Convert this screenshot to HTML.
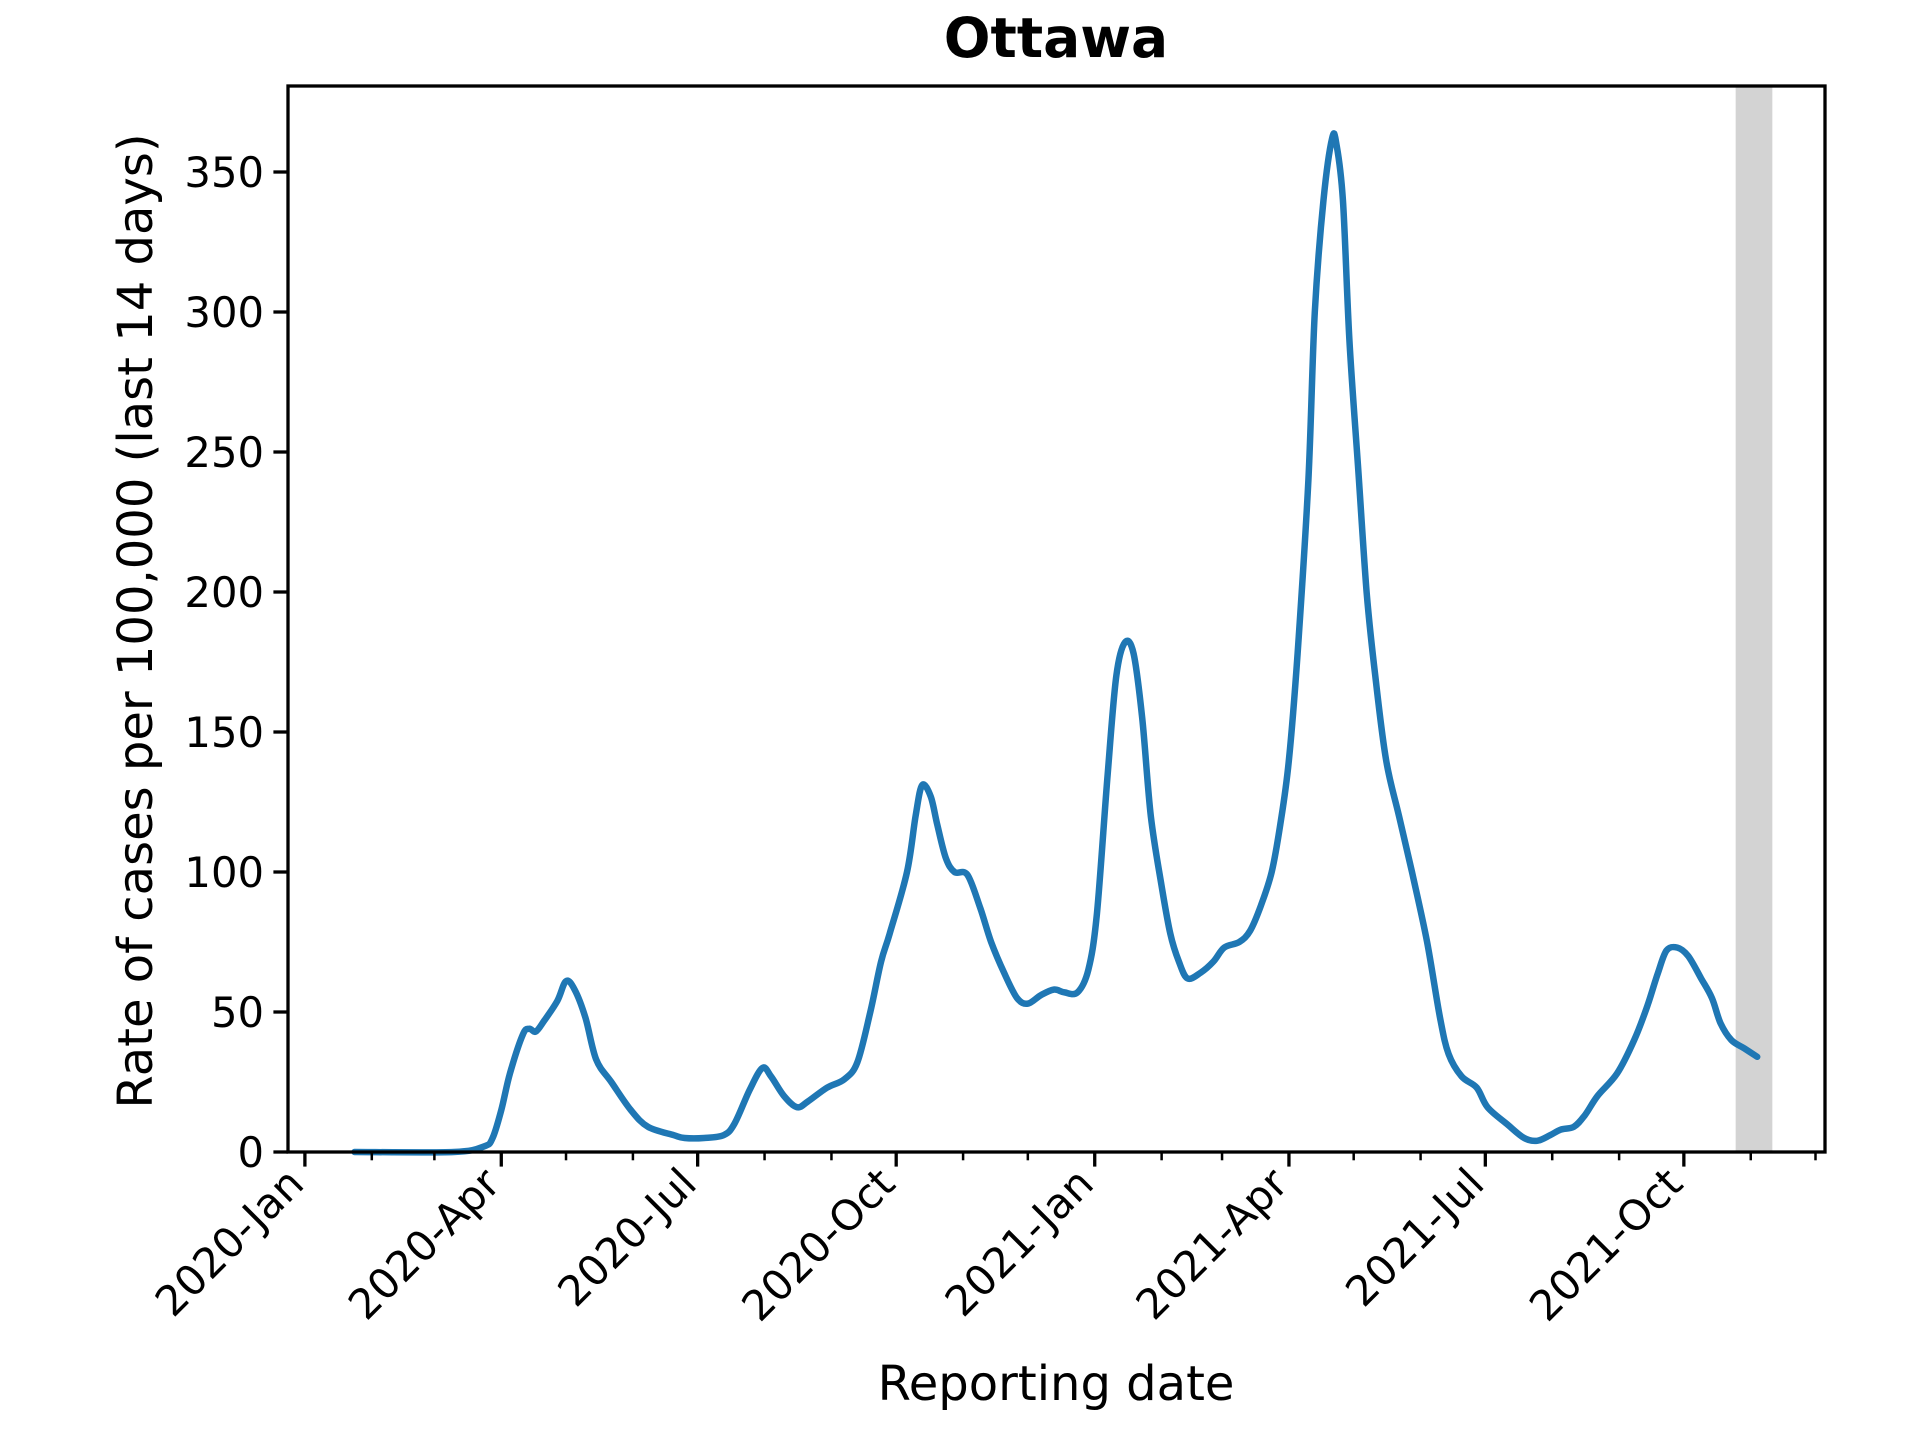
<!DOCTYPE html>
<html><head><meta charset="utf-8"><style>
html,body{margin:0;padding:0;background:#fff;}
svg text{font-family:"DejaVu Sans","Liberation Sans",sans-serif;fill:#000;}
</style></head><body>
<svg id="chart" width="1920" height="1440" viewBox="0 0 1920 1440" xmlns="http://www.w3.org/2000/svg">
<rect width="1920" height="1440" fill="#fff"/>
<g id="plot"></g>
<text x="1056" y="57" font-size="55" font-weight="bold" text-anchor="middle">Ottawa</text>
<text x="1056" y="1400" font-size="48" text-anchor="middle">Reporting date</text>
<text transform="translate(152,621) rotate(-90)" font-size="48" text-anchor="middle">Rate of cases per 100,000 (last 14 days)</text>
</svg>
<script>
// days since 2020-01-01
const days = [23,69,83,87,91,95,101,104,107,111,117,121,125,130,135,142,151,159,171,176,185,194,199,206,212,216,222,228,233,242,250,256,262,267,271,279,283,286,290,293,297,301,307,313,318,324,330,335,341,347,352,358,363,367,372,376,380,384,388,392,397,401,405,409,415,421,426,433,438,443,448,452,456,460,465,468,472,476,478,481,484,488,492,496,501,507,513,520,526,530,536,543,548,557,565,571,577,582,588,593,599,608,616,622,627,631,636,641,647,652,656,661,667,673];
const rates = [0,0,2,5,15,28,42,44,43,47,54,61,58,48,33,25,15,9,6,5,5,6,10,22,30,27,20,16,18,23,26,32,50,68,78,100,120,131,127,117,105,100,99,87,75,64,55,53,56,58,57,57,65,85,135,170,182,178,155,120,95,78,68,62,64,68,73,75,79,88,100,117,140,178,240,300,340,362,360,340,290,245,200,170,140,120,100,75,48,35,27,23,16,10,5,4,6,8,9,13,20,28,40,52,64,72,73,70,62,55,46,40,37,34];
const yTicks = [0,50,100,150,200,250,300,350];
const xTickLabels = ["2020-Jan","2020-Apr","2020-Jul","2020-Oct","2021-Jan","2021-Apr","2021-Jul","2021-Oct"];
const xTickDays = [0,91,182,274,366,456,547,639];
const minorDays = [31,60,121,152,213,244,305,335,397,425,486,517,578,609,670,700];
const shadeStart = 663, shadeEnd = 680;

const X0=288,X1=1825,Y0=1152,Y1=86;
const x = d => 304.9 + d*2.158;
const y = v => 1152 - v*2.8;
const NS="http://www.w3.org/2000/svg";
const g=document.getElementById('plot');
function mk(t,a){const e=document.createElementNS(NS,t);for(const k in a)e.setAttribute(k,a[k]);g.appendChild(e);return e;}

const sh=mk('rect',{x:x(shadeStart),y:Y1,width:x(shadeEnd)-x(shadeStart),height:Y0-Y1,fill:'#d3d3d3'});



const P=days.map((d,i)=>[x(d),y(rates[i])]);
let dstr='M'+P[0][0].toFixed(1)+','+P[0][1].toFixed(1);
for(let i=0;i<P.length-1;i++){
  const p0=P[Math.max(0,i-1)],p1=P[i],p2=P[i+1],p3=P[Math.min(P.length-1,i+2)];
  const c1=[p1[0]+(p2[0]-p0[0])/6,p1[1]+(p2[1]-p0[1])/6];
  const c2=[p2[0]-(p3[0]-p1[0])/6,p2[1]-(p3[1]-p1[1])/6];
  dstr+=` C${c1[0].toFixed(1)},${c1[1].toFixed(1)} ${c2[0].toFixed(1)},${c2[1].toFixed(1)} ${p2[0].toFixed(1)},${p2[1].toFixed(1)}`;
}
const line=mk('path',{d:dstr,fill:'none',stroke:'#1f77b4','stroke-width':6.5,'stroke-linejoin':'round','stroke-linecap':'round'});



const frame=mk('rect',{x:X0,y:Y1,width:X1-X0,height:Y0-Y1,fill:'none',stroke:'#000','stroke-width':3.3});



yTicks.forEach(v=>{
  const t=mk('line',{x1:X0-14.6,x2:X0,y1:y(v),y2:y(v),stroke:'#000','stroke-width':3.3});
  
  
  const l=mk('text',{x:X0-24,y:y(v)+15,'font-size':41.7,'text-anchor':'end'});
  l.textContent=v;
  
  
});
xTickDays.forEach((d,i)=>{
  const t=mk('line',{x1:x(d),x2:x(d),y1:Y0,y2:Y0+14.6,stroke:'#000','stroke-width':3.3});
  
  
  const ax=x(d)+1, ay=Y0+34;
  const l=mk('text',{x:ax,y:ay,'font-size':41.7,'text-anchor':'end',transform:`rotate(-45 ${ax} ${ay})`});
  l.textContent=xTickLabels[i];
  
  
});
minorDays.forEach(d=>{
  const t=mk('line',{x1:x(d),x2:x(d),y1:Y0,y2:Y0+8.3,stroke:'#000','stroke-width':2.5});
  
  
});
</script>
</body></html>
